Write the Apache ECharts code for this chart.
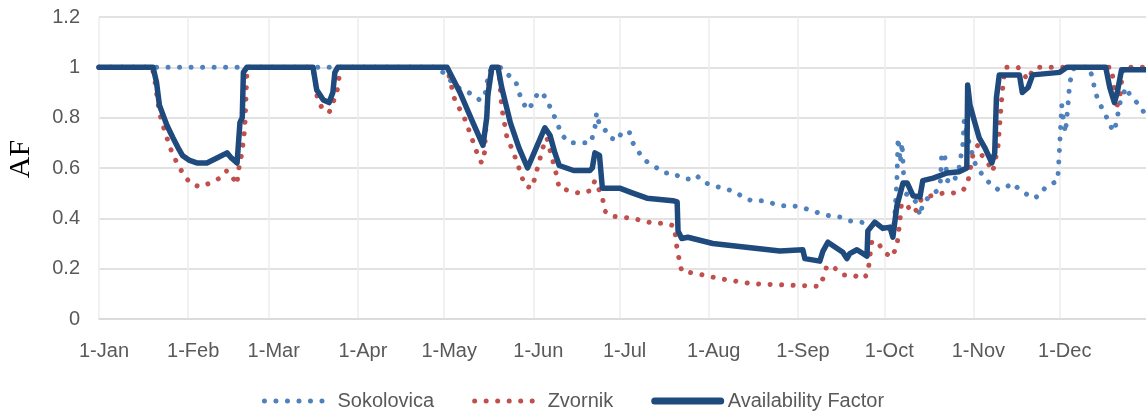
<!DOCTYPE html>
<html>
<head>
<meta charset="utf-8">
<script src="https://cdn.jsdelivr.net/npm/echarts@6/dist/echarts.min.js"></script>
<style>
  html, body { margin: 0; padding: 0; background: #fff; }
  #chart { width: 1146px; height: 417px; }
</style>
</head>
<body>
<div id="chart"></div>
<script>
// ── axis labels (day of year for each month start) ─────────
const monthStarts = [0, 31, 59, 90, 120, 151, 181, 212, 243, 273, 304, 334]
const monthLabels = ['1-Jan', '1-Feb', '1-Mar', '1-Apr', '1-May', '1-Jun',
                     '1-Jul', '1-Aug', '1-Sep', '1-Oct', '1-Nov', '1-Dec']
const yTicks = [0, 0.2, 0.4, 0.6, 0.8, 1, 1.2]

// ── Sokolovica ─────────────────────────────────────────────
const sokDays = [0, 117, 119.6, 124.4, 127, 130, 132.4, 134, 134.8, 135.5, 137, 139.5, 141, 143.5, 145, 146, 147.4,
  149, 151, 152.6, 154, 155.7, 158.5, 161, 163.7, 168, 171, 172.4, 173, 174, 176, 177.6, 180.4, 181.8,
  184.6, 185.6, 187, 189, 191, 194, 196.7, 199.5, 202.6, 205.4, 207.8, 210, 213.4, 218.6, 221.8, 224.5,
  227, 230.8, 234, 237.7, 241, 244, 247.8, 250.6, 254, 257.6, 261, 264.5, 268, 271, 274, 276.5, 277.4,
  277.8, 278.6, 279.2, 280, 282, 284, 285.5, 286.4, 289, 291.4, 292.5, 293, 294, 295, 297, 299, 300.3,
  300.8, 302.5, 304.5, 306, 308, 310.4, 312.5, 315, 317.4, 319.5, 322, 324.6, 327, 328.8, 331, 333.3,
  334, 334.7, 335.3, 336, 336.8, 337.5, 339, 344, 345.5, 346, 347, 348.6, 350, 351.4, 353, 354, 355,
  357, 358.4, 360, 362.5, 364]
const sokVals = [1, 1, 0.98, 0.92, 0.91, 0.89, 0.87, 0.88, 0.93, 0.98, 1, 1, 0.98, 0.96, 0.94, 0.90, 0.86,
  0.83, 0.86, 0.90, 0.90, 0.87, 0.80, 0.73, 0.70, 0.70, 0.70, 0.76, 0.82, 0.77, 0.75, 0.72, 0.71, 0.745,
  0.74, 0.70, 0.675, 0.64, 0.62, 0.60, 0.58, 0.58, 0.56, 0.555, 0.57, 0.545, 0.53, 0.515, 0.50, 0.48,
  0.47, 0.47, 0.46, 0.45, 0.45, 0.445, 0.43, 0.42, 0.41, 0.405, 0.39, 0.385, 0.38, 0.37, 0.36, 0.38, 0.55,
  0.72, 0.62, 0.70, 0.50, 0.49, 0.465, 0.41, 0.46, 0.49, 0.51, 0.54, 0.66, 0.65, 0.55, 0.54, 0.60, 0.69,
  0.79, 0.70, 0.62, 0.59, 0.56, 0.53, 0.515, 0.52, 0.54, 0.52, 0.50, 0.48, 0.49, 0.52, 0.535, 0.55,
  0.69, 0.85, 0.79, 0.74, 0.84, 0.94, 1, 1, 0.96, 0.92, 0.88, 0.84, 0.81, 0.77, 0.745, 0.80, 0.86,
  0.92, 0.89, 0.87, 0.84, 0.80]

// ── Zvornik ────────────────────────────────────────────────
const zvoDays = [0, 18.5, 19.5, 21, 23, 25.4, 28, 31.6, 35, 38.6, 42, 44.5, 46.6, 48, 48.3, 49.7, 50.7, 51.5,
  74.4, 76, 77.5, 80, 82.7, 84, 121, 123.7, 127, 129.6, 130.7, 133, 134, 135.5, 137, 139, 140, 142, 143.5,
  146, 148, 150.5, 151.5, 154.3, 155.7, 157.5, 158.5, 160, 163.7, 167, 171, 172.4, 175, 175.8, 177.6,
  185.6, 189, 193, 197, 200, 201, 202.6, 208, 216, 227, 239, 250.6, 252, 253, 255, 258.6, 262, 265.6,
  267.3, 267.8, 268.7, 271, 273, 275.6, 277.4, 278.4, 279, 281, 283, 284.7, 286, 289.5, 293.4, 296.8,
  300.3, 302, 303.8, 305.5, 307, 309, 310.7, 312.5, 314, 315, 319.5, 323, 324.6, 326, 352, 353.8, 355,
  356, 364]
const zvoVals = [1, 1, 0.94, 0.82, 0.74, 0.66, 0.60, 0.54, 0.525, 0.54, 0.56, 0.59, 0.56, 0.535, 0.58, 0.66, 0.76, 1,
  1, 0.87, 0.84, 0.82, 0.90, 1, 1, 0.87, 0.80, 0.72, 0.68, 0.62, 0.66, 0.95, 1, 1, 0.84, 0.71, 0.68,
  0.60, 0.53, 0.52, 0.56, 0.68, 0.72, 0.64, 0.60, 0.52, 0.51, 0.50, 0.51, 0.55, 0.485, 0.43, 0.41,
  0.40, 0.39, 0.38, 0.38, 0.37, 0.275, 0.19, 0.18, 0.16, 0.14, 0.135, 0.13, 0.17, 0.21, 0.21, 0.175, 0.175, 0.16,
  0.18, 0.23, 0.31, 0.30, 0.265, 0.245, 0.29, 0.385, 0.46, 0.45, 0.42, 0.44, 0.48, 0.49, 0.50, 0.50,
  0.51, 0.54, 0.65, 0.69, 0.65, 0.62, 0.585, 0.68, 0.90, 1, 1, 0.95, 0.99, 1, 1, 0.84, 0.89,
  1, 1]

// ── Availability Factor ────────────────────────────────────
const afDays = [0, 18.8, 20, 21, 22.3, 23.6, 25.7, 27.5, 29, 31.5, 34, 37.5, 41, 44.5, 46, 48, 48.5, 49, 49.8, 50.2, 51.4,
  74.4, 75.7, 78, 80, 81.3, 82, 83, 121, 125.5, 130, 133.5, 134.8, 135.2, 136.6, 138.7, 140, 143, 146,
  149, 152, 155, 156.8, 158.5, 160, 165, 170.7, 171.5, 172.4, 174, 175, 181, 185.6, 190.5, 199.5, 201,
  201.3, 202.6, 204.7, 213.4, 225, 236.7, 244.7, 245.4, 250.6, 251.7, 253.4, 258.6, 260, 261, 263.5, 267,
  267.3, 269.7, 272.5, 275, 276, 277.4, 279.5, 281, 283, 285.4, 286.4, 290, 294.8, 299, 301.7, 302,
  302.8, 304.5, 306, 308, 310.4, 311.4, 312, 313, 317.7, 320, 321, 323, 324.6, 334, 336.5, 350, 351.4,
  353, 354, 355.5, 364]
const afVals = [1, 1, 0.94, 0.85, 0.81, 0.77, 0.72, 0.68, 0.65, 0.63, 0.62, 0.62, 0.64, 0.66, 0.64, 0.62, 0.70, 0.78, 0.80, 0.98, 1,
  1, 0.91, 0.87, 0.86, 0.90, 0.98, 1, 1, 0.90, 0.78, 0.69, 0.80, 0.89, 1, 1, 0.92, 0.78, 0.68,
  0.60, 0.68, 0.76, 0.73, 0.66, 0.61, 0.59, 0.59, 0.60, 0.66, 0.65, 0.52, 0.52, 0.50, 0.48, 0.47, 0.465,
  0.35, 0.32, 0.325, 0.30, 0.285, 0.27, 0.275, 0.24, 0.23, 0.27, 0.305, 0.265, 0.24, 0.26, 0.275, 0.25,
  0.35, 0.385, 0.36, 0.365, 0.325, 0.45, 0.54, 0.54, 0.49, 0.485, 0.55, 0.56, 0.58, 0.585, 0.60, 0.93,
  0.85, 0.78, 0.72, 0.68, 0.62, 0.66, 0.88, 0.97, 0.97, 0.97, 0.90, 0.92, 0.97, 0.98, 1, 1, 0.92,
  0.86, 0.90, 0.99, 0.99]

const pairs = (xs, ys) => xs.map((d, i) => [d, ys[i]])
const labelFont = { color: '#595959', fontSize: 20, fontFamily: '"Liberation Sans", Arial, sans-serif' }
const dots = (color) => ({ color, width: 5, type: [0.01, 11.5], cap: 'round' })

const chart = echarts.init(document.getElementById('chart'), null, { renderer: 'canvas' })
chart.setOption({
  animation: false,
  backgroundColor: '#fff',
  grid: { left: 99, right: 0, top: 17, bottom: 98, outerBoundsMode: 'none' },
  legend: {
    bottom: 1,
    left: 'center',
    itemWidth: 66,
    itemHeight: 14,
    itemGap: 38,
    itemStyle: { opacity: 0 },
    textStyle: Object.assign({}, labelFont, { padding: [0, 0, 0, 2] }),
    data: [
      { name: 'Sokolovica', lineStyle: dots('#4f81bd') },
      { name: 'Zvornik', lineStyle: dots('#c0504d') },
      { name: 'Availability Factor', lineStyle: { color: '#1f4a7e', width: 7, cap: 'round' } },
    ],
  },
  xAxis: {
    type: 'value',
    min: 0,
    max: 364,
    axisLine: { show: true, lineStyle: { color: '#d9d9d9', width: 1.5 } },
    axisTick: { show: false, customValues: monthStarts },
    axisLabel: {
      customValues: monthStarts,
      margin: 22,
      padding: [0, 0, 0, 10],
      ...labelFont,
      formatter: (v) => monthLabels[monthStarts.indexOf(v)] || '',
    },
    splitLine: { show: true, lineStyle: { color: '#ececec', width: 1.5 } },
  },
  yAxis: {
    type: 'value',
    min: 0,
    max: 1.2,
    interval: 0.2,
    name: 'AF',
    nameLocation: 'middle',
    nameRotate: 90,
    nameGap: 63,
    nameTextStyle: {
      color: '#000', fontSize: 30, padding: [0, 0, 0, 18],
      fontFamily: '"Liberation Serif", "DejaVu Serif", serif',
    },
    axisLine: { show: false },
    axisTick: { show: false },
    axisLabel: {
      margin: 19,
      ...labelFont,
      formatter: (v) => String(yTicks.find(t => Math.abs(t - v) < 1e-6) ?? v),
    },
    splitLine: { lineStyle: { color: '#d9d9d9', width: 1.5 } },
  },
  series: [
    {
      name: 'Sokolovica',
      type: 'line',
      showSymbol: false,
      symbol: 'none',
      color: '#4f81bd',
      lineStyle: dots('#4f81bd'),
      data: pairs(sokDays, sokVals),
      z: 2,
    },
    {
      name: 'Zvornik',
      type: 'line',
      showSymbol: false,
      symbol: 'none',
      color: '#c0504d',
      lineStyle: dots('#c0504d'),
      data: pairs(zvoDays, zvoVals),
      z: 3,
    },
    {
      name: 'Availability Factor',
      type: 'line',
      showSymbol: false,
      symbol: 'none',
      color: '#1f4a7e',
      lineStyle: { color: '#1f4a7e', width: 5.5, join: 'round', cap: 'round' },
      data: pairs(afDays, afVals),
      z: 4,
    },
  ],
})
</script>
</body>
</html>
